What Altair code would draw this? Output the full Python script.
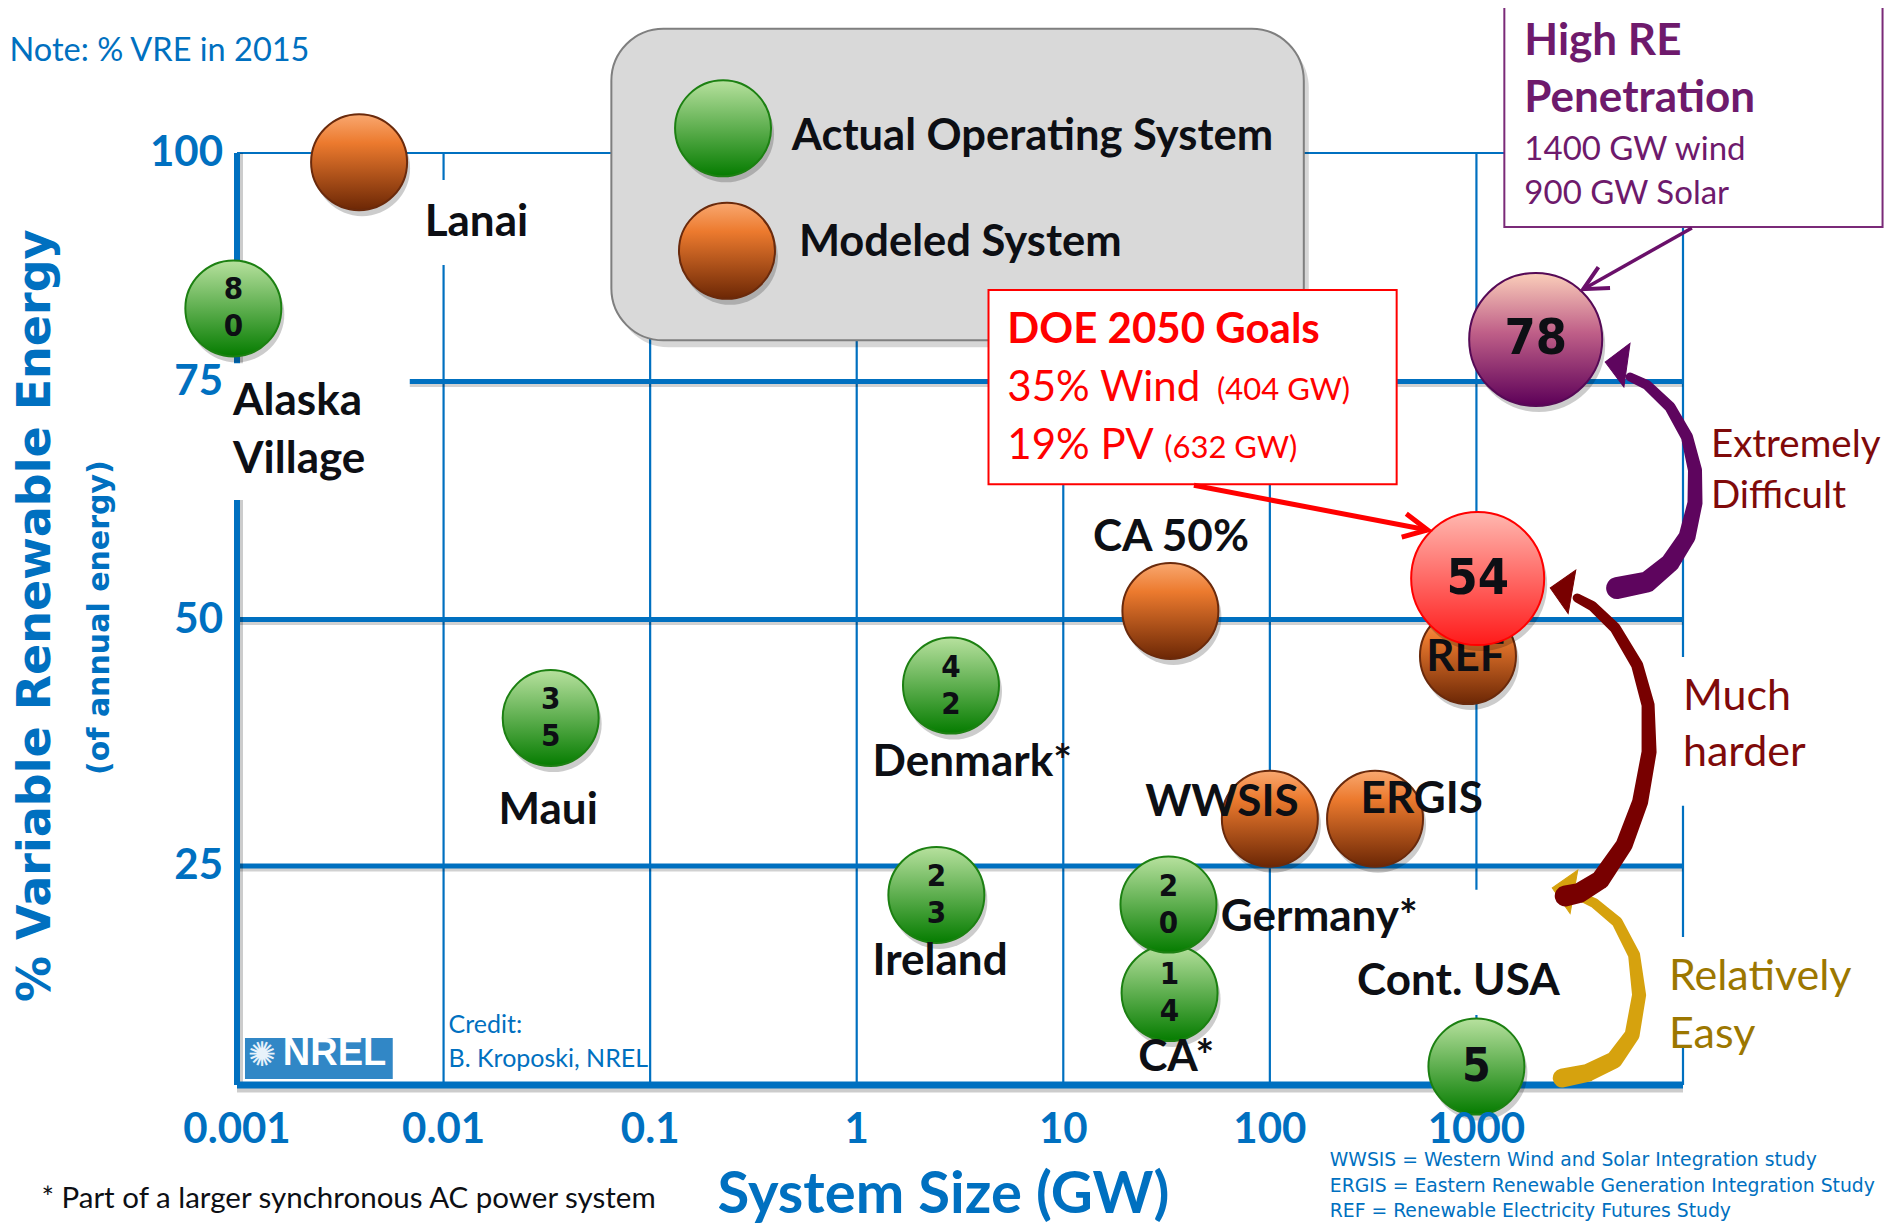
import altair as alt
import pandas as pd

# ------------------------------------------------------------------ data
system = ["Lanai", "Alaska Village", "Maui", "Denmark", "Ireland", "CA 50%", "CA",
          "Germany", "WWSIS", "ERGIS", "REF", "Cont. USA", "DOE 2050 Goals",
          "High RE Penetration"]
size_gw = [0.0039, 0.00096, 0.033, 2.86, 2.43, 33.0, 32.7, 32.3, 100.0, 323.0,
           910.0, 1000.0, 1014.0, 1936.0]
vre_pct = [99.0, 83.0, 40.0, 43.3, 21.7, 50.9, 10.5, 20.6, 29.8, 29.8, 46.3, 2.1,
           54.3, 79.6]
kind = ["modeled", "actual", "actual", "actual", "actual", "modeled", "actual",
        "actual", "modeled", "modeled", "modeled", "actual", "goal", "target"]
bubble_num = ["", "8\n0", "3\n5", "4\n2", "2\n3", "", "1\n4", "2\n0", "", "", "",
              "5", "54", "78"]

# name labels next to the bubbles
lab_text = ["Lanai", "Alaska", "Village", "Maui", "Denmark*", "Ireland", "CA 50%",
            "Germany*", "CA*", "WWSIS", "ERGIS", "Cont. USA"]
lab_x = [0.01442, 0.000957, 0.000957, 0.0321, 1.194, 1.194, 33.2, 57.9, 35.2, 24.9,
         275.0, 818.0]
lab_y = [92.3, 72.8, 66.8, 30.6, 35.4, 14.0, 58.6, 19.1, 3.1, 31.4, 31.7, 11.8]
lab_align = ["center", "left", "left", "center", "left", "left", "center", "left",
             "center", "left", "left", "center"]
ref_text, ref_x, ref_y = ["REF"], [885.0], [46.1]

# axes
grid_x = [0.01, 0.1, 1, 10, 100, 1000, 10000]
grid_y = [25, 50, 75]
x_tick_vals = [0.001, 0.01, 0.1, 1, 10, 100, 1000]
x_tick_text = ["0.001", "0.01", "0.1", "1", "10", "100", "1000"]
y_tick_vals = [25, 50, 75, 100]
y_tick_text = ["25", "50", "75", "100"]

# white label backgrounds (x1, x2, y1, y2)
wb_x1 = [0.00724, 0.000875, 9247.0, 7925.0, 251.8]
wb_x2 = [0.0291, 0.00686, 39720.0, 77450.0, 2754.0]
wb_y1 = [97.05, 77.0, 46.2, 16.9, 22.3]
wb_y2 = [87.75, 62.55, 31.1, 4.57, 8.0]

# legend
leg_kind = ["actual", "modeled"]
leg_x = [0.2254, 0.2355]
leg_y = [102.7, 89.3]
leg_text = ["Actual Operating System", "Modeled System"]
leg_tx = [0.485, 0.525]
leg_ty = [101.75, 90.15]
leg_box = [0.0649, 146.0, 113.6, 79.5]

# DOE box
doe_box = [4.345, 411.0, 85.0, 64.2]
doe_big = ["35% Wind", "19% PV"]
doe_big_x = [5.36, 5.36]
doe_big_y = [74.3, 68.2]
doe_small = ["(404 GW)", "(632 GW)"]
doe_small_x = [55.5, 30.8]
doe_small_y = [74.0, 67.9]
doe_arrow = [42.9, 580.0, 64.1, 59.4]

# High RE box
hre_box = [1365.0, 92470.0, 116.5, 91.9]
hre_bold = ["High RE", "Penetration"]
hre_bold_y = [112.1, 105.9]
hre_reg = ["1400 GW wind", "900 GW Solar"]
hre_reg_y = [100.3, 95.5]
hre_x = 1706.0
hre_arrow = [11040.0, 3289.0, 91.8, 85.1]

# curved arrows (tail -> head)
pur_x = [4800, 6701, 8652, 10455, 11430, 11430, 10455, 8652, 6701, 5546]
pur_y = [53.31, 53.94, 55.93, 58.67, 62.24, 65.70, 69.17, 72.32, 74.63, 75.49]
pur_w = [22, 21, 19, 17, 15, 14, 12, 11, 10, 9]
pur_head = [4200.0, 77.13]
red_x = [2692, 3145, 3972, 5188, 6199, 6851, 6776, 5995, 4694, 3634, 3075]
red_y = [21.58, 21.92, 23.40, 27.13, 31.49, 36.56, 41.33, 45.39, 49.14, 51.42, 52.26]
red_w = [21, 20, 19, 17, 16, 15, 13, 12, 11, 10, 9]
red_head = [2278.0, 53.31]
gold_x = [2603, 3437, 4642, 5670, 6130, 5798, 4800, 3715, 3009]
gold_y = [0.80, 1.37, 2.85, 5.71, 10.27, 14.84, 18.61, 20.78, 21.80]
gold_w = [19, 18, 17, 15, 14, 12, 11, 10, 9]
gold_head = [2329.0, 22.49]

# side notes
side_ext = ["Extremely", "Difficult"]
side_ext_x, side_ext_y = 13650.0, [68.3, 63.0]
side_much = ["Much", "harder"]
side_much_x, side_much_y = 10000.0, [42.1, 36.5]
side_easy = ["Relatively", "Easy"]
side_easy_x, side_easy_y = 8551.0, [12.3, 5.7]

# other text
note_top = ("Note: % VRE in 2015", 7.92e-5, 111.2)
foot = ("* Part of a larger synchronous AC power system", 0.000113, -13.0)
credit = ["Credit:", "B. Kroposki, NREL"]
credit_x, credit_y = 0.01057, [6.85, 2.97]
abbr = ["WWSIS = Western Wind and Solar Integration study",
        "ERGIS =  Eastern Renewable Generation Integration Study",
        "REF = Renewable Electricity Futures Study"]
abbr_x, abbr_y = 195.0, [-8.6, -11.5, -14.4]
x_title = ("System Size (GW)", 2.63, -12.7)
y_title = ("% Variable Renewable Energy", 0.000107, 50.4)
y_sub = ("(of annual energy)", 0.000218, 50.2)
x_label_y = -5.14
nrel_box = [0.001093, 0.005675, 5.37, 0.68]
nrel_text = ("NREL", 0.001667, 3.54)
nrel_sun = ("\u273a", 0.00132, 3.31)

# ------------------------------------------------------------------ style
BLUE = "#0070C0"
INK = "#0d0f14"
CAL = "Lato, 'Open Sans', sans-serif"
VER = "'DejaVu Sans', Verdana, sans-serif"
NAR = "'Liberation Sans Narrow', 'Arial Narrow', 'DejaVu Sans Condensed', sans-serif"
SMALL, BIG = 9216, 17700

xs = alt.Scale(type="log", domain=[0.001, 10000], range=[0, 1446], nice=False)
ys = alt.Scale(domain=[0, 25, 50, 75, 100], range=[932, 713, 466.5, 228.5, 0],
               nice=False, zero=False)


def P():
    return dict(x=alt.X("x:Q", scale=xs, axis=None), y=alt.Y("y:Q", scale=ys, axis=None))


def texts(t, x, y, **kw):
    n = len(t)
    if not isinstance(x, list):
        x = [x] * n
    if not isinstance(y, list):
        y = [y] * n
    df = pd.DataFrame({"t": t, "x": x, "y": y})
    return alt.Chart(df).mark_text(**kw).encode(text="t:N", **P())


def rects(x1, x2, y1, y2, **kw):
    df = pd.DataFrame({"x": x1, "x2": x2, "y": y1, "y2": y2})
    return alt.Chart(df).mark_rect(**kw).encode(
        x2=alt.X2("x2:Q"), y2=alt.Y2("y2:Q"), **P())


def rules(x1, x2, y1, y2, **kw):
    df = pd.DataFrame({"x": x1, "x2": x2, "y": y1, "y2": y2})
    return alt.Chart(df).mark_rule(**kw).encode(
        x2=alt.X2("x2:Q"), y2=alt.Y2("y2:Q"), **P())


def grad(stops):
    return alt.LinearGradient(
        gradient="linear", x1=0, x2=0, y1=0, y2=1,
        stops=[alt.GradientStop(color=c, offset=o) for o, c in stops])


G_GREEN = grad([(0, "#b7e19e"), (1, "#057c00")])
G_ORANGE = grad([(0, "#f9a870"), (0.3, "#ec7a2e"), (1, "#6c2705")])
G_RED = grad([(0, "#ffb8b0"), (1, "#ff1a1a")])
G_PURPLE = grad([(0, "#fbcfba"), (0.45, "#bf5f88"), (1, "#5c0058")])
STYLE = {
    "actual": (G_GREEN, "#1c8012"),
    "modeled": (G_ORANGE, "#6a2a0c"),
    "goal": (G_RED, "#ff0000"),
    "target": (G_PURPLE, "#560a56"),
}
HEAD = "M0,0L-1,-1L-1,1Z"
CHEV = "M-1,-0.5L0,0L-1,0.5"

bub = pd.DataFrame({"system": system, "x": size_gw, "y": vre_pct, "kind": kind,
                    "num": bubble_num})
leg = pd.DataFrame({"kind": leg_kind, "x": leg_x, "y": leg_y})


def bubbles(df, k, size):
    fill, stroke = STYLE[k]
    return alt.Chart(df).transform_filter(alt.datum.kind == k).mark_point(
        shape="circle", filled=True, fill=fill, stroke=stroke, strokeWidth=2,
        opacity=1, size=size).encode(**P())


def shadows(df, size, flt):
    return alt.Chart(df).transform_filter(flt).mark_point(
        shape="circle", filled=True, color="#000000", opacity=0.2, size=size,
        xOffset=3, yOffset=6).encode(**P())


def trail(xv, yv, wv, color):
    df = pd.DataFrame({"x": xv, "y": yv, "w": wv, "i": list(range(len(xv)))})
    return alt.Chart(df).mark_trail(color=color, opacity=1).encode(
        size=alt.Size("w:Q", scale=None, legend=None), order="i:Q", **P())


def head(pt, angle, color, shape=HEAD, size=1936, filled=True, sw=1):
    df = pd.DataFrame({"x": [pt[0]], "y": [pt[1]]})
    kw = dict(fill=color) if filled else {}
    return alt.Chart(df).mark_point(
        shape=shape, filled=filled, stroke=color, strokeWidth=sw, size=size,
        angle=angle, opacity=1, **kw).encode(**P())


layers = []

# ---- grid & axes
n = len(grid_x)
layers.append(rules(grid_x, grid_x, [0] * n, [100] * n, color=BLUE, strokeWidth=2.2))
m = len(grid_y)
layers.append(rules([0.001] * m, [10000] * m, grid_y, grid_y, color="#000000",
                    opacity=0.18, strokeWidth=5, yOffset=3, y2Offset=3))
layers.append(rules([0.001] * m, [10000] * m, grid_y, grid_y, color=BLUE, strokeWidth=5))
layers.append(rules([0.001], [10000], [100], [100], color=BLUE, strokeWidth=2.2))
layers.append(rules([0.001], [0.001], [0], [100], color="#000000", opacity=0.2,
                    strokeWidth=6, xOffset=3, x2Offset=3))
layers.append(rules([0.001], [0.001], [0], [100], color=BLUE, strokeWidth=6))
layers.append(rules([0.001], [10000], [0], [0], color="#000000", opacity=0.2,
                    strokeWidth=7, yOffset=4, y2Offset=4))
layers.append(rules([0.001], [10000], [0], [0], color=BLUE, strokeWidth=7))

# ---- white label backgrounds
layers.append(rects(wb_x1, wb_x2, wb_y1, wb_y2, fill="white"))

# ---- legend box
layers.append(rects([leg_box[0]], [leg_box[1]], [leg_box[2]], [leg_box[3]],
                    fill="#000000", opacity=0.16, cornerRadius=52,
                    xOffset=5, x2Offset=5, yOffset=7, y2Offset=7))
layers.append(rects([leg_box[0]], [leg_box[1]], [leg_box[2]], [leg_box[3]],
                    fill="#d9d9d9", stroke="#7f7f7f", strokeWidth=2, cornerRadius=52))
layers.append(shadows(leg, SMALL, "true"))
for k in leg_kind:
    layers.append(bubbles(leg, k, SMALL))
layers.append(texts(leg_text, leg_tx, leg_ty, font=CAL, fontWeight="bold",
                    fontSize=43.5, color=INK, align="left", baseline="middle"))

# ---- NREL logo & credit
layers.append(rects([nrel_box[0]], [nrel_box[1]], [nrel_box[2]], [nrel_box[3]],
                    fill="#3187c6"))
layers.append(texts([nrel_text[0]], nrel_text[1], nrel_text[2],
                    font="'Liberation Sans', Arial, sans-serif", fontWeight="bold",
                    fontSize=38, color="white", align="left", baseline="middle"))
layers.append(texts([nrel_sun[0]], nrel_sun[1], nrel_sun[2], font=VER, fontSize=34,
                    color="#e8f2fa", align="center", baseline="middle"))
layers.append(texts(credit, credit_x, credit_y, font=CAL, fontSize=25, color=BLUE,
                    align="left", baseline="middle"))

# ---- bubbles
layers.append(shadows(bub, SMALL, "datum.kind == 'actual' || datum.kind == 'modeled'"))
layers.append(bubbles(bub, "actual", SMALL))
layers.append(bubbles(bub, "modeled", SMALL))
layers.append(alt.Chart(bub).transform_filter("length(datum.num) == 3").mark_text(
    font=NAR, fontWeight="bold", fontSize=31, lineHeight=37, lineBreak="\n",
    color=INK, baseline="middle", dy=-18).encode(text="num:N", **P()))
layers.append(alt.Chart(bub).transform_filter(
    "datum.kind == 'actual' && length(datum.num) == 1").mark_text(
    font=NAR, fontWeight="bold", fontSize=46, color=INK, baseline="middle").encode(
    text="num:N", **P()))
lab = pd.DataFrame({"t": lab_text, "x": lab_x, "y": lab_y, "a": lab_align})
for a in ["left", "center"]:
    layers.append(alt.Chart(lab).transform_filter(alt.datum.a == a).mark_text(
        font=CAL, fontWeight="bold", fontSize=44, color=INK, align=a,
        baseline="middle").encode(text="t:N", **P()))
layers.append(texts(ref_text, ref_x, ref_y, font=CAL, fontWeight="bold", fontSize=44,
                    color=INK, align="center", baseline="middle"))
layers.append(shadows(bub, BIG, "datum.kind == 'goal' || datum.kind == 'target'"))
layers.append(bubbles(bub, "goal", BIG))
layers.append(bubbles(bub, "target", BIG))
layers.append(alt.Chart(bub).transform_filter(
    "datum.kind == 'goal' || datum.kind == 'target'").mark_text(
    font=NAR, fontWeight="bold", fontSize=50, color=INK, baseline="middle").encode(
    text="num:N", **P()))

# ---- DOE box
RED = "#ff0000"
layers.append(rects([doe_box[0]], [doe_box[1]], [doe_box[2]], [doe_box[3]],
                    fill="white", stroke=RED, strokeWidth=2))
layers.append(texts(["DOE 2050 Goals"], 5.36, 80.6, font=CAL, fontWeight="bold",
                    fontSize=42, color=RED, align="left", baseline="middle"))
layers.append(texts(doe_big, doe_big_x, doe_big_y, font=CAL, fontSize=42, color=RED,
                    align="left", baseline="middle"))
layers.append(texts(doe_small, doe_small_x, doe_small_y, font=CAL, fontSize=31,
                    color=RED, align="left", baseline="middle"))
layers.append(rules([doe_arrow[0]], [doe_arrow[1]], [doe_arrow[2]], [doe_arrow[3]],
                    color=RED, strokeWidth=5))
layers.append(head((doe_arrow[1], doe_arrow[3]), 11, RED, shape=CHEV, size=2304,
                   filled=False, sw=5))

# ---- High RE box
PURP = "#6e1a6c"
layers.append(rects([hre_box[0]], [hre_box[1]], [hre_box[2]], [hre_box[3]],
                    fill="white", stroke="#7a2a78", strokeWidth=2))
layers.append(texts(hre_bold, hre_x, hre_bold_y, font=CAL, fontWeight="bold",
                    fontSize=44, color=PURP, align="left", baseline="middle"))
layers.append(texts(hre_reg, hre_x, hre_reg_y, font=CAL, fontSize=33, color=PURP,
                    align="left", baseline="middle"))
layers.append(rules([hre_arrow[0]], [hre_arrow[1]], [hre_arrow[2]], [hre_arrow[3]],
                    color="#6a106a", strokeWidth=3.5))
layers.append(head((hre_arrow[1], hre_arrow[3]), 151, "#6a106a", shape=CHEV,
                   size=2304, filled=False, sw=4))

# ---- curved arrows
layers.append(trail(gold_x, gold_y, gold_w, "#d6a20e"))
layers.append(head(gold_head, 190, "#d6a20e"))
layers.append(trail(red_x, red_y, red_w, "#780000"))
layers.append(head(red_head, 190, "#780000"))
layers.append(trail(pur_x, pur_y, pur_w, "#5e055e"))
layers.append(head(pur_head, 188, "#5e055e"))

# ---- side notes
layers.append(texts(side_ext, side_ext_x, side_ext_y, font=CAL, fontSize=38.5,
                    color="#7f0a0a", align="left", baseline="middle"))
layers.append(texts(side_much, side_much_x, side_much_y, font=CAL, fontSize=43,
                    color="#7f0a0a", align="left", baseline="middle"))
layers.append(texts(side_easy, side_easy_x, side_easy_y, font=CAL, fontSize=43,
                    color="#9c7700", align="left", baseline="middle"))

# ---- axis labels & titles
layers.append(texts(x_tick_text, x_tick_vals, x_label_y, font=CAL, fontWeight="bold",
                    fontSize=42, color=BLUE, align="center", baseline="middle"))
layers.append(texts(y_tick_text, 0.001, y_tick_vals, font=CAL, fontWeight="bold",
                    fontSize=42, color=BLUE, align="right", baseline="middle", dx=-14))
layers.append(texts([x_title[0]], x_title[1], x_title[2], font=CAL, fontWeight="bold",
                    fontSize=58, color=BLUE, align="center", baseline="middle"))
layers.append(texts([y_title[0]], y_title[1], y_title[2], font=VER, fontWeight="bold",
                    fontSize=46, color=BLUE, align="center", baseline="middle",
                    angle=270))
layers.append(texts([y_sub[0]], y_sub[1], y_sub[2], font=VER, fontWeight="bold",
                    fontSize=30, color=BLUE, align="center", baseline="middle",
                    angle=270))
layers.append(texts([note_top[0]], note_top[1], note_top[2], font=CAL, fontSize=32.5,
                    color=BLUE, align="left", baseline="middle"))
layers.append(texts([foot[0]], foot[1], foot[2], font=CAL, fontSize=29.5, color=INK,
                    align="left", baseline="middle"))
layers.append(texts(abbr, abbr_x, abbr_y, font=VER, fontSize=18.8, color=BLUE,
                    align="left", baseline="middle"))

chart = alt.layer(*layers).properties(
    width=1446, height=932,
    autosize=alt.AutoSizeParams(type="none"),
    padding={"left": 229, "top": 145, "right": 202, "bottom": 139},
    background="white",
).configure_view(stroke=None)

chart.save("out.html", embed_options={"renderer": "svg", "actions": False})
